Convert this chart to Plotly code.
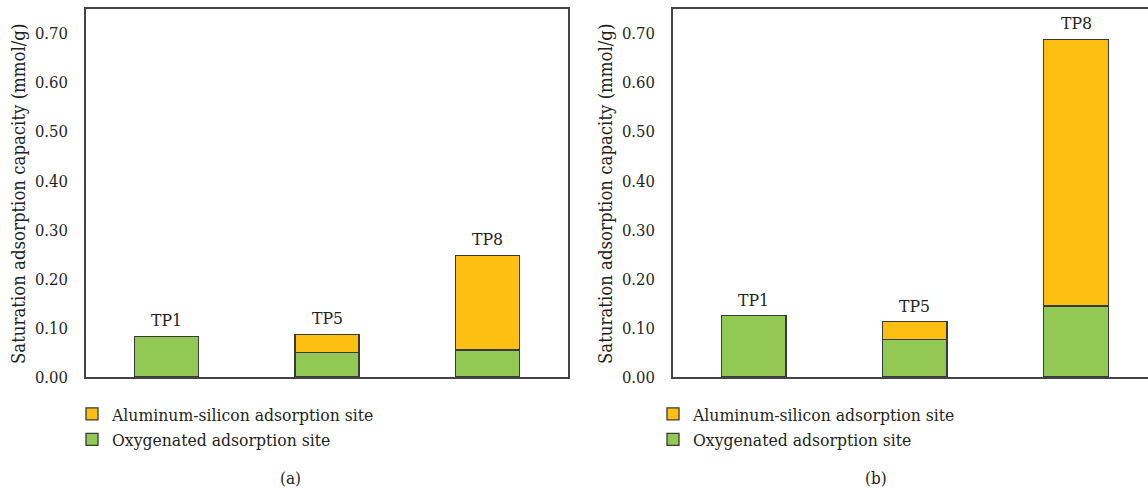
import plotly.graph_objects as go

categories = ["TP1", "TP5", "TP8"]
oxygenated_a = [0.083, 0.050, 0.055]
alsi_a = [None, 0.037, 0.193]
oxygenated_b = [0.125, 0.077, 0.145]
alsi_b = [None, 0.036, 0.543]
tick_vals = [0.0, 0.1, 0.2, 0.3, 0.4, 0.5, 0.6, 0.7]
panel_labels = ["(a)", "(b)"]
series_names = ["Oxygenated adsorption site", "Aluminum-silicon adsorption site"]

W, H = 1148, 489
GREEN = "#92C955"
YELLOW = "#FDBF12"
EDGE = "#3a3a3a"
TXT = "#231F20"
FONT = "DejaVu Serif Condensed, DejaVu Serif, serif"

def px_x(p):
    return p / W

def px_y(p):
    return (H - p) / H

fig = go.Figure()

panels = [
    (oxygenated_a, alsi_a, "x", "y", "legend"),
    (oxygenated_b, alsi_b, "x2", "y2", "legend2"),
]
for oxy, alsi, xa, ya, lg in panels:
    fig.add_trace(go.Bar(x=categories, y=oxy, name=series_names[0], xaxis=xa, yaxis=ya,
                         marker=dict(color=GREEN, line=dict(color=EDGE, width=1.3)),
                         width=0.4, legend=lg, legendrank=2))
    fig.add_trace(go.Bar(x=categories, y=alsi, name=series_names[1], xaxis=xa, yaxis=ya,
                         marker=dict(color=YELLOW, line=dict(color=EDGE, width=1.3)),
                         width=0.4, legend=lg, legendrank=1))
    totals = [o + (a or 0) for o, a in zip(oxy, alsi)]
    for c, t in zip(categories, totals):
        fig.add_annotation(x=c, y=t, xref=xa, yref=ya, text=c, showarrow=False,
                           yanchor="middle", yshift=16,
                           font=dict(family=FONT, size=17.5, color=TXT))

ycommon = dict(range=[0, 0.75], tickvals=tick_vals, tickformat=".2f",
               showgrid=False, zeroline=False, showline=True, linecolor="#444",
               linewidth=1.5, ticks="", ticklabelstandoff=13, automargin=False,
               tickfont=dict(family=FONT, size=16.5, color=TXT))
xcommon = dict(showgrid=False, zeroline=False, showline=True, linecolor="#444",
               linewidth=1.5, showticklabels=False, ticks="", automargin=False,
               categoryorder="array", categoryarray=categories)

ydom = [px_y(377), px_y(9)]
legcommon = dict(xanchor="left", yanchor="top", traceorder="normal",
                 font=dict(family=FONT, size=17.4, color=TXT), bgcolor="rgba(0,0,0,0)")
fig.update_layout(
    template="none",
    width=W, height=H, margin=dict(l=0, r=0, t=0, b=0, autoexpand=False),
    plot_bgcolor="white", paper_bgcolor="white",
    barmode="stack", showlegend=True,
    xaxis=dict(domain=[px_x(86), px_x(568)], range=[-0.5, 2.5], mirror=True, anchor="y", **xcommon),
    yaxis=dict(domain=ydom, anchor="x", mirror=True, **ycommon),
    xaxis2=dict(domain=[px_x(673), 1.0], range=[-0.5, 2.446], mirror=True, anchor="y2", **xcommon),
    yaxis2=dict(domain=ydom, anchor="x2", mirror=False, **ycommon),
    legend=dict(x=px_x(72), y=px_y(396), **legcommon),
    legend2=dict(x=px_x(653), y=px_y(396), **legcommon),
)

ytitle = "Saturation adsorption capacity (mmol/g)"
for xp in [19, 606]:
    fig.add_annotation(x=px_x(xp), y=px_y(194), xref="paper", yref="paper", text=ytitle,
                       textangle=-90, showarrow=False, xanchor="center", yanchor="middle",
                       font=dict(family=FONT, size=18.4, color=TXT))

for lab, xp in zip(panel_labels, [290, 876]):
    fig.add_annotation(x=px_x(xp), y=px_y(478), xref="paper", yref="paper", text=lab,
                       showarrow=False, xanchor="center", yanchor="middle",
                       font=dict(family=FONT, size=17, color=TXT))

fig.write_html("out.html", config={"displayModeBar": False},
               post_script="document.body.style.margin='0';document.body.style.overflow='hidden';")
